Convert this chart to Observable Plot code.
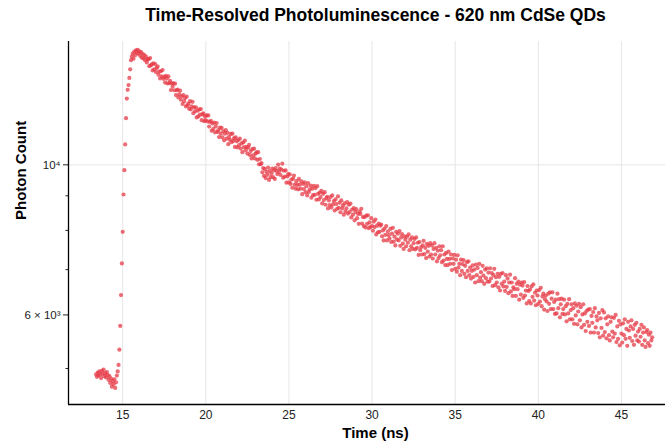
<!DOCTYPE html>
<html>
<head>
<meta charset="utf-8">
<script src="https://cdn.jsdelivr.net/npm/d3@7"></script>
<script src="https://cdn.jsdelivr.net/npm/@observablehq/plot@0.6"></script>
<style>
  body { margin: 0; background: #ffffff; }
  #chart { width: 665px; height: 445px; overflow: hidden; }
</style>
</head>
<body>
<div id="chart"></div>
<script>
// ---- Text ----
const titleText = "Time-Resolved Photoluminescence - 620 nm CdSe QDs";
const xLabel = "Time (ns)";
const yLabel = "Photon Count";

// ---- Axis ticks ----
const xTicks = [15, 20, 25, 30, 35, 40, 45];
const yMajorTicks = [6000, 10000];
const yMajorLabels = ["6 × 10³", "10⁴"];
const yMinorTicks = [5000, 7000, 8000, 9000];
const yGridTicks = [10000];
const xDomain = [11.74, 47.65];
const yDomain = [4423, 15216];

// ---- Data: time (ns) ----
const time = [
  13.40,13.45,13.50,13.55,13.60,13.65,13.70,13.75,13.80,13.85,13.90,13.95,14.00,14.05,14.10,14.15,14.20,14.25,14.30,14.35,14.40,14.45,14.50,14.55,14.60,14.65,14.70,
  14.75,14.80,14.85,14.90,14.95,15.00,15.05,15.10,15.15,15.20,15.25,15.30,15.35,15.40,15.45,15.50,
  15.55,15.60,15.65,15.70,15.75,15.80,15.85,15.90,15.95,16.00,16.05,16.10,16.15,16.20,16.25,16.30,16.35,16.40,16.45,16.50,
  16.55,16.60,16.65,16.70,16.75,16.80,16.85,16.90,16.95,17.00,
  17.05,17.10,17.15,17.20,17.25,17.30,17.35,17.40,17.45,17.50,
  17.55,17.60,17.65,17.70,17.75,17.80,17.85,17.90,17.95,18.00,
  18.05,18.10,18.15,18.20,18.25,18.30,18.35,18.40,18.45,18.50,
  18.55,18.60,18.65,18.70,18.75,18.80,18.85,18.90,18.95,19.00,
  19.05,19.10,19.15,19.20,19.25,19.30,19.35,19.40,19.45,19.50,
  19.55,19.60,19.65,19.70,19.75,19.80,19.85,19.90,19.95,20.00,
  20.05,20.10,20.15,20.20,20.25,20.30,20.35,20.40,20.45,20.50,
  20.55,20.60,20.65,20.70,20.75,20.80,20.85,20.90,20.95,21.00,
  21.05,21.10,21.15,21.20,21.25,21.30,21.35,21.40,21.45,21.50,
  21.55,21.60,21.65,21.70,21.75,21.80,21.85,21.90,21.95,22.00,
  22.05,22.10,22.15,22.20,22.25,22.30,22.35,22.40,22.45,22.50,
  22.55,22.60,22.65,22.70,22.75,22.80,22.85,22.90,22.95,23.00,
  23.05,23.10,23.15,23.20,23.25,23.30,23.35,23.40,23.45,23.50,
  23.55,23.60,23.65,23.70,23.75,23.80,23.85,23.90,23.95,24.00,
  24.05,24.10,24.15,24.20,24.25,24.30,24.35,24.40,24.45,24.50,
  24.55,24.60,24.65,24.70,24.75,24.80,24.85,24.90,24.95,25.00,
  25.05,25.10,25.15,25.20,25.25,25.30,25.35,25.40,25.45,25.50,
  25.55,25.60,25.65,25.70,25.75,25.80,25.85,25.90,25.95,26.00,
  26.05,26.10,26.15,26.20,26.25,26.30,26.35,26.40,26.45,26.50,
  26.55,26.60,26.65,26.70,26.75,26.80,26.85,26.90,26.95,27.00,
  27.05,27.10,27.15,27.20,27.25,27.30,27.35,27.40,27.45,27.50,
  27.55,27.60,27.65,27.70,27.75,27.80,27.85,27.90,27.95,28.00,
  28.05,28.10,28.15,28.20,28.25,28.30,28.35,28.40,28.45,28.50,
  28.55,28.60,28.65,28.70,28.75,28.80,28.85,28.90,28.95,29.00,
  29.05,29.10,29.15,29.20,29.25,29.30,29.35,29.40,29.45,29.50,
  29.55,29.60,29.65,29.70,29.75,29.80,29.85,29.90,29.95,30.00,
  30.05,30.10,30.15,30.20,30.25,30.30,30.35,30.40,30.45,30.50,
  30.55,30.60,30.65,30.70,30.75,30.80,30.85,30.90,30.95,31.00,
  31.05,31.10,31.15,31.20,31.25,31.30,31.35,31.40,31.45,31.50,
  31.55,31.60,31.65,31.70,31.75,31.80,31.85,31.90,31.95,32.00,
  32.05,32.10,32.15,32.20,32.25,32.30,32.35,32.40,32.45,32.50,
  32.55,32.60,32.65,32.70,32.75,32.80,32.85,32.90,32.95,33.00,
  33.05,33.10,33.15,33.20,33.25,33.30,33.35,33.40,33.45,33.50,
  33.55,33.60,33.65,33.70,33.75,33.80,33.85,33.90,33.95,34.00,
  34.05,34.10,34.15,34.20,34.25,34.30,34.35,34.40,34.45,34.50,
  34.55,34.60,34.65,34.70,34.75,34.80,34.85,34.90,34.95,35.00,
  35.05,35.10,35.15,35.20,35.25,35.30,35.35,35.40,35.45,35.50,
  35.55,35.60,35.65,35.70,35.75,35.80,35.85,35.90,35.95,36.00,
  36.05,36.10,36.15,36.20,36.25,36.30,36.35,36.40,36.45,36.50,
  36.55,36.60,36.65,36.70,36.75,36.80,36.85,36.90,36.95,37.00,
  37.05,37.10,37.15,37.20,37.25,37.30,37.35,37.40,37.45,37.50,
  37.55,37.60,37.65,37.70,37.75,37.80,37.85,37.90,37.95,38.00,
  38.05,38.10,38.15,38.20,38.25,38.30,38.35,38.40,38.45,38.50,
  38.55,38.60,38.65,38.70,38.75,38.80,38.85,38.90,38.95,39.00,
  39.05,39.10,39.15,39.20,39.25,39.30,39.35,39.40,39.45,39.50,
  39.55,39.60,39.65,39.70,39.75,39.80,39.85,39.90,39.95,40.00,
  40.05,40.10,40.15,40.20,40.25,40.30,40.35,40.40,40.45,40.50,
  40.55,40.60,40.65,40.70,40.75,40.80,40.85,40.90,40.95,41.00,
  41.05,41.10,41.15,41.20,41.25,41.30,41.35,41.40,41.45,41.50,
  41.55,41.60,41.65,41.70,41.75,41.80,41.85,41.90,41.95,42.00,
  42.05,42.10,42.15,42.20,42.25,42.30,42.35,42.40,42.45,42.50,
  42.55,42.60,42.65,42.70,42.75,42.80,42.85,42.90,42.95,43.00,
  43.05,43.10,43.15,43.20,43.25,43.30,43.35,43.40,43.45,43.50,
  43.55,43.60,43.65,43.70,43.75,43.80,43.85,43.90,43.95,44.00,
  44.05,44.10,44.15,44.20,44.25,44.30,44.35,44.40,44.45,44.50,
  44.55,44.60,44.65,44.70,44.75,44.80,44.85,44.90,44.95,45.00,
  45.05,45.10,45.15,45.20,45.25,45.30,45.35,45.40,45.45,45.50,
  45.55,45.60,45.65,45.70,45.75,45.80,45.85,45.90,45.95,46.00,
  46.05,46.10,46.15,46.20,46.25,46.30,46.35,46.40,46.45,46.50,
  46.55,46.60,46.65,46.70,46.75,46.80,46.85
];

// ---- Data: photon counts ----
const counts = [
  4900,4860,4930,4880,4950,4900,4840,4960,4910,4980,4870,4920,4850,4940,4890,4810,4870,4760,4830,4700,4790,4740,4820,4680,4770,4880,4950,
  5060,5330,5780,6420,7150,7960,9040,9820,10720,11720,12530,12910,13120,13440,13840,14280,
  14450,14600,14350,14700,14520,14760,14640,14790,14600,14720,14500,14680,14400,14590,14360,14530,14280,14450,14170,14330,
  14330,13990,14380,14030,14080,13790,14130,13840,14090,13710,
  13900,13980,13590,13740,13420,13750,13510,13810,13400,13490,
  13230,13540,13410,13190,13510,13200,13310,12900,13200,13050,
  13200,12890,13180,12680,12890,12920,12580,12710,12870,12480,
  12630,12300,12680,12410,12550,12200,12610,12240,12320,12100,
  12420,12080,12200,12390,11920,12160,12000,12160,11750,12020,
  11790,12080,11860,12090,11640,11870,11910,11600,11780,11630,
  11830,11590,11830,11390,11570,11610,11230,11510,11300,11550,
  11170,11400,11530,11180,11250,10990,11350,11120,11340,10980,
  11210,10870,11120,11250,10930,11150,10730,11000,10890,11110,
  10800,11120,10850,10950,10630,10980,10840,10610,10880,10690,
  10930,10570,10760,10440,10790,10620,10860,10510,10630,10390,
  10600,10700,10340,10480,10220,10550,10330,10570,10220,10390,
  10430,10170,10440,10020,10200,10020,10060,9750,9890,9630,
  9860,9560,9770,9670,9910,9500,9790,9590,9710,9870,
  9590,9810,9530,9890,9800,9690,10010,9760,9870,9660,
  9840,10040,9570,9800,9610,9810,9410,9610,9690,9420,
  9680,9370,9510,9250,9540,9640,9350,9220,9460,9340,
  9200,9530,9350,9220,9450,9050,9370,9210,9420,9110,
  9300,9010,9400,9120,9200,9320,8940,9220,9020,9310,
  9030,9240,8880,9300,9060,8890,9100,8960,9150,8770,
  9060,8870,9110,8730,8930,8970,8620,8860,8720,8960,
  8650,9010,8740,8840,8560,8890,8750,8610,8980,8640,
  8790,8510,8860,8620,8710,8440,8770,8530,8620,8810,
  8470,8730,8520,8760,8360,8590,8440,8630,8280,8520,
  8600,8340,8460,8180,8530,8460,8610,8190,8370,8120,
  8370,8080,8410,8180,8420,8060,8220,8090,8340,8120,
  7990,8240,8090,8300,7890,8130,7950,8190,7960,8130,
  8160,7840,8000,7730,8050,7880,8120,7730,7970,7870,
  7780,8040,7690,7910,8070,7700,7830,7600,7960,7760,
  7910,7730,7980,7590,7810,7900,7650,7510,7840,7750,
  7580,7830,7670,7890,7480,7750,7580,7810,7510,7660,
  7770,7500,7810,7540,7670,7360,7690,7480,7560,7370,
  7600,7720,7380,7540,7280,7640,7440,7590,7320,7660,
  7370,7600,7270,7510,7660,7370,7540,7200,7470,7280,
  7580,7350,7480,7180,7580,7220,7370,7110,7410,7260,
  7110,7440,7260,7140,7370,6990,7270,7140,7360,7020,
  7240,6950,7350,7050,7140,6870,7240,6970,7130,7230,
  6900,7090,6820,7180,6970,7200,6870,7050,6790,6970,
  7100,6830,7000,6700,7120,6870,7040,6730,7140,6810,
  6940,6730,7090,6860,6670,7000,6800,7030,6720,6930,
  6720,7030,6790,6920,6620,6870,7020,6640,6820,6700,
  6900,6590,6830,6520,6900,6670,6920,6610,6720,6510,
  6870,6600,6790,6460,6700,6880,6500,6700,6400,6590,
  6550,6800,6400,6670,6550,6720,6320,6650,6430,6700,
  6630,6360,6710,6410,6520,6240,6620,6510,6290,6540,
  6240,6610,6380,6660,6300,6470,6200,6520,6410,6230,
  6530,6280,6580,6180,6390,6450,6110,6330,6410,6280,
  6080,6450,6230,6480,6120,6340,6480,6120,6270,6020,
  6320,6030,6450,6140,6330,5950,6220,6340,6020,6120,
  6320,6010,6180,5870,6230,6030,6330,5910,6100,6220,
  5910,6140,5820,6240,5990,6190,5810,6070,6230,5890,
  6160,5750,6010,6220,5800,6030,5680,6080,5860,6110,
  5780,6120,5650,5980,5840,6060,5650,6140,5750,5970,
  5890,5640,6040,5560,5930,5740,6100,5590,6050,5660,
  5930,5540,5810,5970,5600,5500,5860,5950,5670,5560,
  5940,5630,6000,5470,5770,5530,5880,5410,5810,5630,
  5460,5830,5600,5910,5530,5720,5400,5860,5690,5550,
  5770,5890,5490,5720,5420,5800,5590,5840,5500,5670,
  5480,5720,5570,5800,5420,5650,5750,5500,5380,5660,
  5700,5450,5610,5400,5650,5500,5560
];

const data = time.map((t, i) => ({t, c: counts[i]}));
const yLabelMap = new Map(yMajorTicks.map((v, i) => [v, yMajorLabels[i]]));
const font = '"Liberation Sans", Arial, Helvetica, sans-serif';

const chart = Plot.plot({
  width: 665,
  height: 445,
  marginLeft: 68,
  marginRight: 0,
  marginTop: 41,
  marginBottom: 41,
  style: {fontFamily: font, background: "#ffffff", color: "#222"},
  x: {domain: xDomain, label: null},
  y: {type: "log", domain: yDomain, label: null},
  marks: [
    Plot.ruleX(xTicks, {stroke: "#e6e6e6", strokeWidth: 1}),
    Plot.ruleY(yGridTicks, {stroke: "#e6e6e6", strokeWidth: 1}),
    Plot.dot(data, {x: "t", y: "c", r: 2.1, fill: "#e63946", fillOpacity: 0.75}),
    Plot.axisX(xTicks, {tickSize: 0, tickPadding: 6, fontSize: 12, label: null, color: "#222"}),
    Plot.axisY(yMajorTicks, {tickSize: 5, tickPadding: 3, fontSize: 11.5, label: null,
      tickFormat: d => yLabelMap.get(d), color: "#222", stroke: "#222"}),
    Plot.axisY(yMinorTicks, {tickSize: 2.5, tickPadding: 3, label: null, tickFormat: () => "", stroke: "#222"}),
    Plot.ruleX([xDomain[0]], {stroke: "#000", strokeWidth: 1.3}),
    Plot.ruleY([yDomain[0]], {stroke: "#000", strokeWidth: 1.3}),
    Plot.text([titleText], {text: d => d, frameAnchor: "top", lineAnchor: "middle", dx: 8.5, dy: -26,
      fontSize: 17.5, fontWeight: "bold", fill: "#000"}),
    Plot.text([xLabel], {text: d => d, frameAnchor: "bottom", lineAnchor: "middle", dx: 8.5, dy: 29,
      fontSize: 15, fontWeight: "bold", fill: "#000"}),
    Plot.text([yLabel], {text: d => d, frameAnchor: "left", lineAnchor: "middle", rotate: -90, dx: -47, dy: -3,
      fontSize: 15, fontWeight: "bold", fill: "#000"})
  ]
});
document.getElementById("chart").appendChild(chart);
</script>
</body>
</html>
